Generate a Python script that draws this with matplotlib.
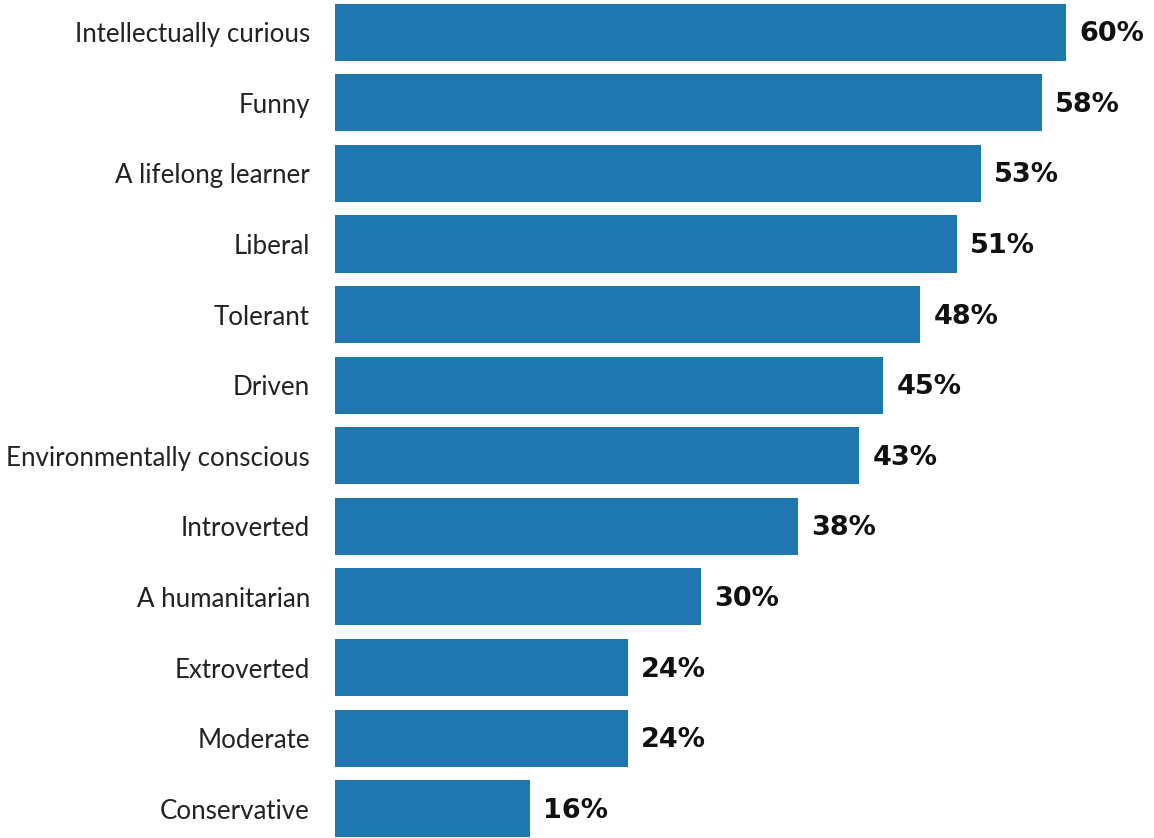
import numpy as np
import matplotlib.pyplot as plt

plt.rcParams['font.family'] = ['Lato', 'DejaVu Sans']

# data
traits = ["Intellectually curious", "Funny", "A lifelong learner", "Liberal", "Tolerant",
          "Driven", "Environmentally conscious", "Introverted", "A humanitarian",
          "Extroverted", "Moderate", "Conservative"]
pct = [60, 58, 53, 51, 48, 45, 43, 38, 30, 24, 24, 16]

fig = plt.figure(figsize=(11.54, 8.38), dpi=100)
ax = fig.add_axes([335 / 1154, 0, 1 - 335 / 1154, 1])

y = np.arange(len(traits))
ax.barh(y, pct, height=0.81, color='#1f77b0')

# value labels at bar ends
for yi, v in zip(y, pct):
    ax.text(v + 1.1, yi + 0.03, f"{v}%", va='center', ha='left', fontsize=19.5,
            fontweight='bold', family=['DejaVu Sans'], color='#111111')

ax.set_yticks(y)
ax.set_yticklabels(traits, fontsize=18.6, color='#222222')
ax.tick_params(axis='y', length=0, pad=18)
ax.set_xticks([])
ax.set_xlim(0, 67.2)
ax.set_ylim(11.415, -0.455)
for s in ax.spines.values():
    s.set_visible(False)

fig.savefig('out.png', dpi=100)
